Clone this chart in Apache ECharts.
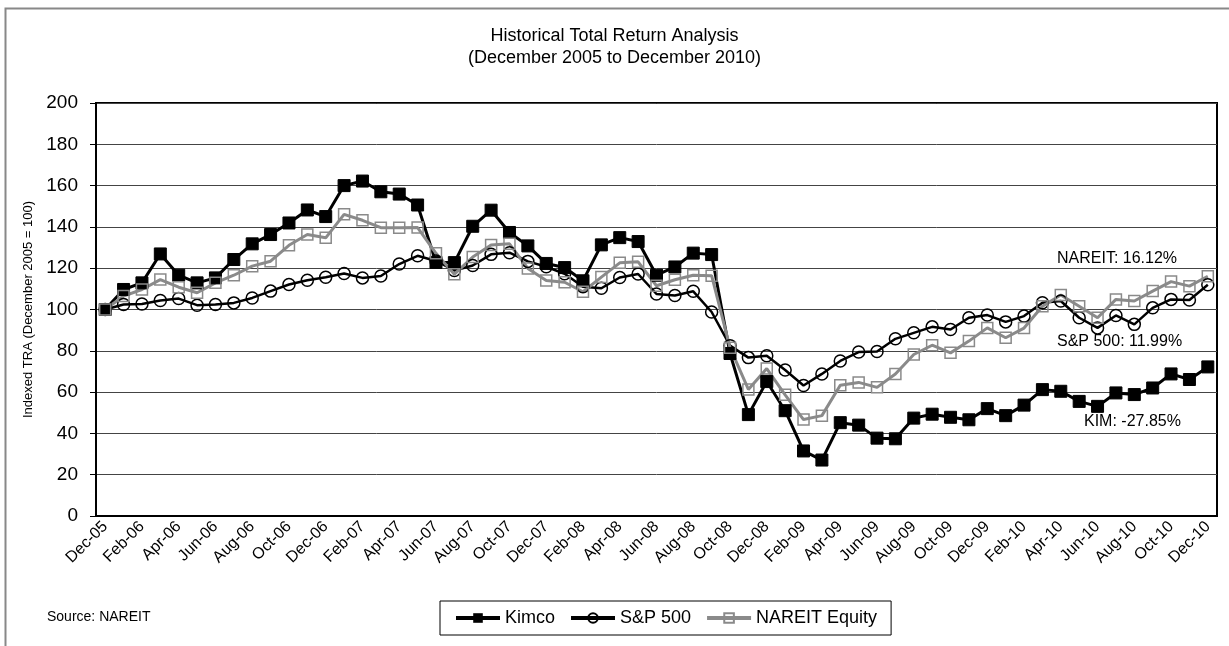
<!DOCTYPE html>
<html style="height: 100%">
<head>
    <meta charset="utf-8">
    <script src="https://cdn.jsdelivr.net/npm/echarts@6/dist/echarts.min.js"></script>
</head>
<body style="height: 100%; margin: 0; background: #fff">
    <div id="container" style="width: 1229px; height: 646px"></div>
    <script type="text/javascript">
        // month labels, Dec-05 .. Dec-10
        var months = [
            'Dec-05',
            'Jan-06', 'Feb-06', 'Mar-06', 'Apr-06', 'May-06', 'Jun-06', 'Jul-06', 'Aug-06', 'Sep-06', 'Oct-06', 'Nov-06', 'Dec-06',
            'Jan-07', 'Feb-07', 'Mar-07', 'Apr-07', 'May-07', 'Jun-07', 'Jul-07', 'Aug-07', 'Sep-07', 'Oct-07', 'Nov-07', 'Dec-07',
            'Jan-08', 'Feb-08', 'Mar-08', 'Apr-08', 'May-08', 'Jun-08', 'Jul-08', 'Aug-08', 'Sep-08', 'Oct-08', 'Nov-08', 'Dec-08',
            'Jan-09', 'Feb-09', 'Mar-09', 'Apr-09', 'May-09', 'Jun-09', 'Jul-09', 'Aug-09', 'Sep-09', 'Oct-09', 'Nov-09', 'Dec-09',
            'Jan-10', 'Feb-10', 'Mar-10', 'Apr-10', 'May-10', 'Jun-10', 'Jul-10', 'Aug-10', 'Sep-10', 'Oct-10', 'Nov-10', 'Dec-10'
        ];

        var kimco = [
            100, 109.7, 112.9, 126.9, 116.6, 112.9, 115.3, 124.2, 131.8, 136.3, 141.9, 148.2, 145.0,
            160.0, 162.2, 157.0, 155.9, 150.6, 122.8, 122.7, 140.3, 148.1, 137.3, 130.8, 122.3,
            120.3, 113.9, 131.3, 134.8, 132.9, 116.6, 120.6, 127.3, 126.6, 78.7, 49.1, 65.1,
            51.0, 31.5, 27.1, 45.2, 44.0, 37.7, 37.4, 47.4, 49.3, 47.8, 46.6, 52.0,
            48.6, 53.7, 61.2, 60.4, 55.5, 53.1, 59.6, 58.8, 62.0, 68.8, 66.1, 72.2
        ];

        var sp500 = [
            100, 102.4, 102.7, 104.4, 105.3, 102.1, 102.4, 103.2, 105.6, 108.9, 112.1, 114.2, 115.6,
            117.4, 115.3, 116.2, 122.0, 126.0, 123.5, 118.9, 121.3, 126.7, 127.5, 123.3, 120.7,
            117.3, 111.0, 110.3, 115.5, 117.2, 107.5, 106.8, 108.8, 98.8, 82.5, 76.7, 77.6,
            70.7, 63.2, 68.8, 75.1, 79.4, 79.7, 85.8, 88.7, 91.6, 90.3, 96.0, 97.3,
            94.0, 96.8, 103.3, 104.1, 96.0, 91.1, 97.1, 92.8, 100.8, 104.9, 104.6, 112.0
        ];

        var nareit = [
            100, 106.5, 109.7, 114.5, 110.8, 108.1, 112.9, 116.6, 121.0, 123.4, 131.1, 136.3, 134.7,
            146.1, 143.2, 139.6, 139.6, 139.7, 127.2, 117.1, 125.4, 131.2, 131.8, 119.9, 114.0,
            113.2, 108.6, 115.7, 122.6, 123.1, 111.5, 114.4, 116.6, 116.4, 81.5, 61.3, 71.4,
            58.7, 46.7, 48.6, 63.3, 64.7, 62.3, 68.8, 78.2, 82.7, 79.0, 84.7, 91.1,
            86.3, 91.0, 101.6, 107.0, 101.6, 96.0, 104.9, 104.1, 108.9, 113.5, 111.3, 116.1
        ];

        var endNotes = ['NAREIT: 16.12%', 'S&P 500: 11.99%', 'KIM: -27.85%'];

        var FONT = "'Liberation Sans', Arial, sans-serif";

        var dom = document.getElementById("container");
        var myChart = echarts.init(dom, null, { renderer: 'canvas' });

        var option = {
            animation: false,
            backgroundColor: '#fff',
            textStyle: { fontFamily: FONT, color: '#000' },
            title: {
                text: 'Historical Total Return Analysis\n(December 2005 to December 2010)',
                left: 'center',
                top: 20,
                textStyle: {
                    fontFamily: FONT,
                    fontSize: 18,
                    fontWeight: 'normal',
                    lineHeight: 22,
                    color: '#000'
                }
            },
            legend: {
                left: 440,
                top: 601,
                itemWidth: 44,
                itemHeight: 12,
                itemGap: 14,
                padding: [8, 14, 8, 14],
                borderColor: '#000',
                borderWidth: 1,
                textStyle: { fontFamily: FONT, fontSize: 18, color: '#000' },
                lineStyle: { width: 4 },
                data: ['Kimco', 'S&P 500', 'NAREIT Equity']
            },
            grid: {
                left: 96,
                right: 12,
                top: 103,
                bottom: 130,
                show: true,
                borderColor: '#000',
                borderWidth: 2
            },
            xAxis: {
                type: 'category',
                data: months,
                boundaryGap: true,
                axisLine: { lineStyle: { color: '#000', width: 2 } },
                axisTick: { interval: 1, length: 6, lineStyle: { color: '#000' } },
                axisLabel: {
                    interval: 1,
                    rotate: 45,
                    margin: 8,
                    fontSize: 16,
                    fontFamily: FONT,
                    color: '#000'
                },
                splitLine: { show: false }
            },
            yAxis: {
                type: 'value',
                min: 0,
                max: 200,
                interval: 20,
                name: 'Indexed TRA (December 2005 = 100)',
                nameLocation: 'middle',
                nameGap: 46,
                nameTextStyle: { fontFamily: FONT, fontSize: 13, color: '#000' },
                axisLine: { show: true, lineStyle: { color: '#000', width: 2 } },
                axisTick: { show: true, length: 6, lineStyle: { color: '#000' } },
                axisLabel: { fontSize: 19, margin: 18, fontFamily: FONT, color: '#000' },
                splitLine: { lineStyle: { color: '#444', width: 1 } }
            },
            series: [
                {
                    name: 'Kimco',
                    type: 'line',
                    data: kimco,
                    symbol: 'rect',
                    symbolSize: 12,
                    lineStyle: { color: '#000', width: 3 },
                    itemStyle: { color: '#000', borderColor: '#000' }
                },
                {
                    name: 'S&P 500',
                    type: 'line',
                    data: sp500,
                    symbol: 'circle',
                    symbolSize: 12,
                    lineStyle: { color: '#000', width: 2.5 },
                    itemStyle: { color: 'rgba(255,255,255,0)', borderColor: '#000', borderWidth: 1.5 }
                },
                {
                    name: 'NAREIT Equity',
                    type: 'line',
                    data: nareit,
                    symbol: 'rect',
                    symbolSize: 11,
                    lineStyle: { color: '#8a8a8a', width: 3 },
                    itemStyle: { color: 'rgba(255,255,255,0)', borderColor: '#8a8a8a', borderWidth: 1.5 }
                }
            ],
            graphic: [
                {
                    type: 'rect',
                    silent: true,
                    shape: { x: 5.5, y: 8.5, width: 1300, height: 700 },
                    style: { fill: 'none', stroke: '#888', lineWidth: 2 }
                },
                {
                    type: 'text', left: 1057, top: 251,
                    style: { text: endNotes[0], font: '16px ' + FONT, fill: '#000' }
                },
                {
                    type: 'text', left: 1057, top: 334,
                    style: { text: endNotes[1], font: '16px ' + FONT, fill: '#000' }
                },
                {
                    type: 'text', left: 1084, top: 414,
                    style: { text: endNotes[2], font: '16px ' + FONT, fill: '#000' }
                },
                {
                    type: 'text', left: 47, top: 610,
                    style: { text: 'Source: NAREIT', font: '14px ' + FONT, fill: '#000' }
                }
            ]
        };

        myChart.setOption(option, true);
    </script>
</body>
</html>
